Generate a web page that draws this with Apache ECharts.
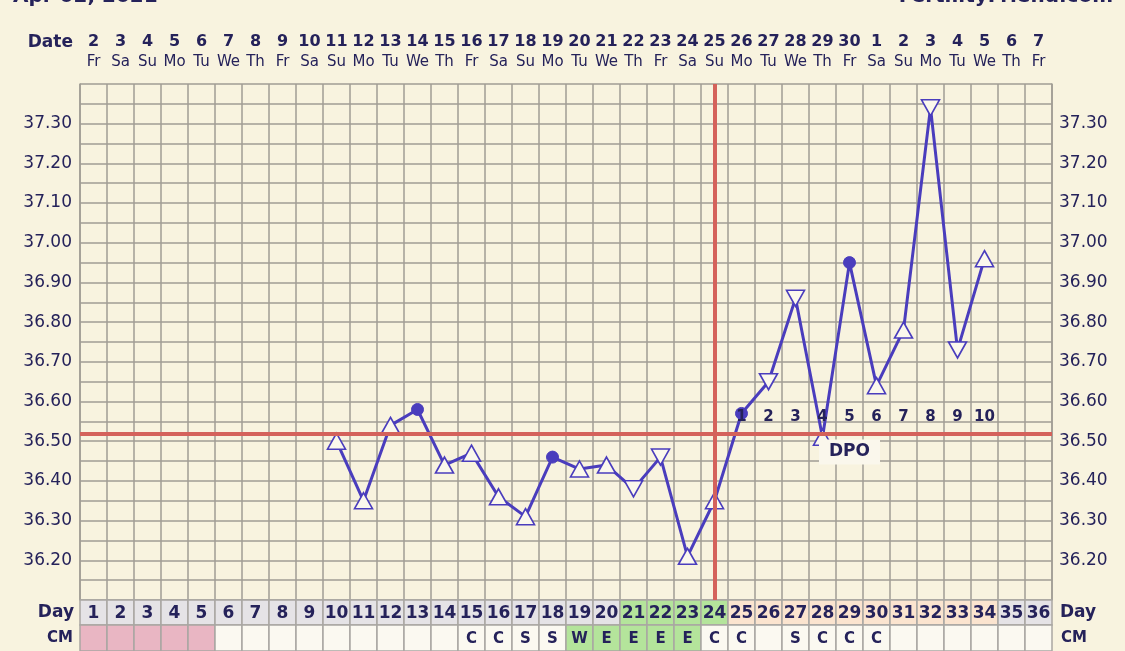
<!DOCTYPE html>
<html><head><meta charset="utf-8">
<script src="https://cdn.jsdelivr.net/npm/echarts@6/dist/echarts.min.js"></script>
<style>html,body{margin:0;padding:0;background:#f8f3df;}#c{width:1125px;height:651px;}</style>
</head><body><div id="c"></div>
<script>
// ---- data ----
const cycleDays = ['1','2','3','4','5','6','7','8','9','10','11','12','13','14','15','16','17','18','19','20','21','22','23','24','25','26','27','28','29','30','31','32','33','34','35','36'];
const dates = ['2','3','4','5','6','7','8','9','10','11','12','13','14','15','16','17','18','19','20','21','22','23','24','25','26','27','28','29','30','1','2','3','4','5','6','7'];
const weekdays = ['Fr','Sa','Su','Mo','Tu','We','Th','Fr','Sa','Su','Mo','Tu','We','Th','Fr','Sa','Su','Mo','Tu','We','Th','Fr','Sa','Su','Mo','Tu','We','Th','Fr','Sa','Su','Mo','Tu','We','Th','Fr'];
const temps = [null,null,null,null,null,null,null,null,null,
  36.50,36.35,36.54,36.58,36.44,36.47,36.36,36.31,36.46,36.43,36.44,36.38,36.46,36.21,36.35,
  36.57,36.65,36.86,36.51,36.95,36.64,36.78,37.34,36.73,36.96,null,null];
const markers = ['','','','','','','','','',
  'up','up','up','dot','up','up','up','up','dot','up','up','down','down','up','up',
  'dot','down','down','up','dot','up','up','down','down','up','',''];
const cmObs = ['','','','','','','','','','','','','','','C','C','S','S','W','E','E','E','E','C','C','','S','C','C','C','','','','','',''];
const coverline = 36.52;
const ovulationDay = '24';
const dpoDays = ['25','26','27','28','29','30','31','32','33','34'];
const dpoNumbers = ['1','2','3','4','5','6','7','8','9','10'];
const periodDays = [1,2,3,4,5];
const fertileDays = [21,22,23,24];
const lutealDays = [25,26,27,28,29,30,31,32,33,34];
const fertileCmDays = [19,20,21,22,23];
const yTickLabels = ['36.20','36.30','36.40','36.50','36.60','36.70','36.80','36.90','37.00','37.10','37.20','37.30'];
const headerDate = 'Apr 02, 2021';
const headerSite = 'FertilityFriend.com';

// ---- styles ----
const INK = '#25225a';
const LINE = '#4a3dbd';
const GRIDC = '#a19d95';
const RED = '#d4625b';
const FONT = 'DejaVu Sans';

const chart = echarts.init(document.getElementById('c'));

function cellRenderer(fillFn, textFn, fontSize) {
  return function (params, api) {
    const i = api.value(0);
    const c = api.coord([i, 0]);
    const s = api.size([1, 1]);
    return {
      type: 'group',
      children: [
        {type: 'rect', shape: {x: c[0] - s[0] / 2, y: c[1] - s[1] / 2, width: s[0], height: s[1]},
         style: {fill: fillFn(i + 1), stroke: '#a9a7a3', lineWidth: 1.5}},
        {type: 'text', x: c[0], y: c[1] + 1,
         style: {text: textFn(i), fill: INK, font: 'bold ' + fontSize + 'px "' + FONT + '"', align: 'center', verticalAlign: 'middle'}}
      ]
    };
  };
}
function dayFill(d) {
  if (fertileDays.includes(d)) return '#b4e49b';
  if (lutealDays.includes(d)) return '#fbe4cf';
  return '#e5e3e6';
}
function cmFill(d) {
  if (periodDays.includes(d)) return '#e9b6c3';
  if (fertileCmDays.includes(d)) return '#b4e49b';
  return '#fbf9f1';
}

const rowData = cycleDays.map((d, i) => [i, 0]);

const tempData = temps.map((t, i) => {
  if (t === null) return '-';
  const m = markers[i];
  if (m === 'dot') return {value: t, symbol: 'circle', symbolSize: 12, itemStyle: {color: LINE, borderColor: LINE}};
  return {value: t, symbol: 'triangle', symbolSize: [18, 16], symbolRotate: m === 'down' ? 180 : 0,
          itemStyle: {color: '#fbf8ec', borderColor: LINE, borderWidth: 1.6}};
});

const yAxisBase = {
  type: 'value', min: 36.10, max: 37.40, interval: 0.05, gridIndex: 0,
  axisLine: {show: true, lineStyle: {color: GRIDC, width: 1.5}},
  axisTick: {show: false},
  axisLabel: {color: INK, fontSize: 17, fontFamily: FONT,
    formatter: v => { const s = v.toFixed(2); return yTickLabels.includes(s) ? s : ''; }}
};

chart.setOption({
  backgroundColor: '#f8f3df',
  animation: false,
  grid: [
    {left: 80, right: 73, top: 84, height: 516},
    {left: 80, right: 73, top: 600, height: 25},
    {left: 80, right: 73, top: 625, height: 26}
  ],
  xAxis: [
    {type: 'category', gridIndex: 0, data: cycleDays, position: 'top', boundaryGap: true,
     axisLine: {show: false}, axisTick: {show: false},
     splitLine: {show: true, lineStyle: {color: GRIDC, width: 1.5}},
     axisLabel: {margin: 12, interval: 0,
       formatter: (v, i) => '{d|' + dates[i] + '}\n{w|' + weekdays[i] + '}',
       rich: {d: {fontFamily: FONT, fontWeight: 'bold', fontSize: 16, color: INK, lineHeight: 21},
              w: {fontFamily: FONT, fontSize: 15, color: INK, lineHeight: 20}}}},
    {type: 'category', gridIndex: 1, data: cycleDays, show: false},
    {type: 'category', gridIndex: 2, data: cycleDays, show: false}
  ],
  yAxis: [
    Object.assign({}, yAxisBase, {position: 'left', axisLabel: Object.assign({}, yAxisBase.axisLabel, {margin: 8}),
      splitLine: {show: true, lineStyle: {color: GRIDC, width: 1.5}}}),
    Object.assign({}, yAxisBase, {position: 'right', axisLabel: Object.assign({}, yAxisBase.axisLabel, {margin: 7}),
      splitLine: {show: false}}),
    {type: 'category', gridIndex: 1, data: ['Day'], position: 'left', axisLine: {show: false}, axisTick: {show: false},
     axisLabel: {margin: 6, color: INK, fontFamily: FONT, fontWeight: 'bold', fontSize: 17}},
    {type: 'category', gridIndex: 1, data: ['Day'], position: 'right', axisLine: {show: false}, axisTick: {show: false},
     axisLabel: {margin: 8, color: INK, fontFamily: FONT, fontWeight: 'bold', fontSize: 17}},
    {type: 'category', gridIndex: 2, data: ['CM'], position: 'left', axisLine: {show: false}, axisTick: {show: false},
     axisLabel: {margin: 7, color: INK, fontFamily: FONT, fontWeight: 'bold', fontSize: 15}},
    {type: 'category', gridIndex: 2, data: ['CM'], position: 'right', axisLine: {show: false}, axisTick: {show: false},
     axisLabel: {margin: 9, color: INK, fontFamily: FONT, fontWeight: 'bold', fontSize: 15}}
  ],
  graphic: [
    {type: 'text', left: 13, top: -13, style: {text: headerDate, font: 'bold 20px "' + FONT + '"', fill: INK}},
    {type: 'text', right: 12, top: -13, style: {text: headerSite, font: 'bold 20px "' + FONT + '"', fill: INK}},
    {type: 'text', x: 73, y: 43, style: {text: 'Date', font: 'bold 17px "' + FONT + '"', fill: INK, align: 'right', verticalAlign: 'middle'}}
  ],
  series: [
    {type: 'line', xAxisIndex: 0, yAxisIndex: 0, data: [], z: 1, silent: true,
     markLine: {symbol: ['none', 'none'], silent: true, label: {show: false},
       lineStyle: {color: RED, width: 4, type: 'solid'},
       data: [{yAxis: coverline}, {xAxis: ovulationDay}]}},
    {type: 'line', xAxisIndex: 0, yAxisIndex: 0, data: tempData, z: 3,
     lineStyle: {color: LINE, width: 3}, showAllSymbol: true},
    {type: 'scatter', xAxisIndex: 0, yAxisIndex: 0, z: 4, symbolSize: 1, itemStyle: {color: 'transparent', opacity: 1},
     data: dpoDays.map((d, i) => ({value: [d, coverline + 0.04], label: {formatter: dpoNumbers[i]}})),
     label: {show: true, position: 'inside', color: INK, opacity: 1, fontFamily: FONT, fontWeight: 'bold', fontSize: 15}},
    {type: 'scatter', xAxisIndex: 0, yAxisIndex: 0, z: 4, symbolSize: 1, itemStyle: {color: 'transparent', opacity: 1},
     data: [{value: [dpoDays[4], coverline - 0.047]}],
     label: {show: true, position: 'inside', formatter: 'DPO', color: INK, opacity: 1, fontFamily: FONT, fontWeight: 'bold', fontSize: 17,
       backgroundColor: '#faf7ec', padding: [4, 10]}},
    {type: 'custom', xAxisIndex: 1, yAxisIndex: 2, data: rowData,
     renderItem: cellRenderer(dayFill, i => cycleDays[i], 17)},
    {type: 'custom', xAxisIndex: 2, yAxisIndex: 4, data: rowData,
     renderItem: cellRenderer(cmFill, i => cmObs[i], 15)}
  ]
});
</script></body></html>
